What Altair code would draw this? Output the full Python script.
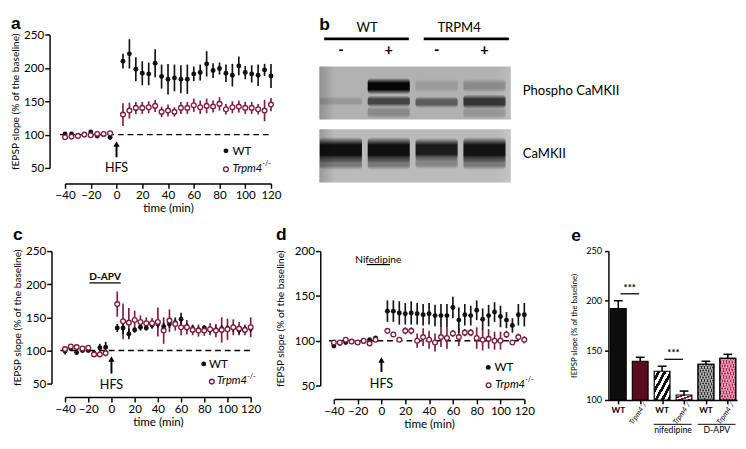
import altair as alt
import pandas as pd

FONT = "Lato"
LETTER_FONT = "Liberation Sans"
WT_COLOR = "#111111"
KO_COLOR = "#7b1d3d"
Y_TITLE = "fEPSP slope (% of the baseline)"

# ---------------- time-course data (mean, SEM) ----------------
TIMES = [-40, -35, -30, -25, -20, -15, -10, -5,
         5, 10, 15, 20, 25, 30, 35, 40, 45, 50, 55, 60, 65, 70,
         75, 80, 85, 90, 95, 100, 105, 110, 115, 120]
X_TICKS = [-40, -20, 0, 20, 40, 60, 80, 100, 120]

A_WT = [101, 101, 99, 100, 104, 98, 100, 96,
        210, 221, 198, 192, 191, 207, 187, 183, 185, 183, 183, 191, 193, 206,
        196, 199, 192, 189, 203, 193, 191, 189, 197, 188]
A_WT_SEM = [3, 2, 2, 2, 3, 2, 2, 4,
            11, 22, 18, 18, 17, 21, 18, 23, 20, 21, 22, 11, 12, 19,
            11, 9, 13, 17, 14, 10, 13, 16, 9, 18]
A_KO = [96, 97, 98, 100, 99, 101, 101, 102,
        130, 136, 140, 140, 141, 143, 134, 136, 134, 140, 140, 144, 141, 143,
        142, 146, 138, 141, 142, 140, 140, 138, 136, 145]
A_KO_SEM = [2, 2, 2, 1, 2, 2, 2, 2,
            17, 12, 9, 9, 9, 9, 8, 9, 7, 9, 9, 10, 10, 11,
            9, 10, 8, 9, 9, 9, 9, 8, 16, 10]

C_WT = [99, 103, 97, 100, 100, 96, 104, 105,
        134, 134, 125, 131, 135, 134, 138, 140, 136, 140, 142, 147, 136, 133,
        131, 134, 131, 131, 133, 133, 134, 131, 132, 133]
C_WT_SEM = [5, 4, 4, 3, 3, 3, 6, 8,
            6, 9, 8, 4, 5, 4, 5, 6, 6, 6, 6, 10, 6, 5,
            5, 4, 5, 5, 5, 5, 6, 6, 5, 5]
C_KO = [102, 106, 105, 103, 104, 94, 94, 96,
        170, 144, 142, 146, 143, 141, 141, 143, 130, 145, 140, 135, 135, 131,
        130, 130, 132, 130, 131, 132, 135, 133, 131, 135]
C_KO_SEM = [4, 3, 3, 3, 4, 3, 3, 5,
            19, 27, 22, 14, 10, 9, 8, 22, 20, 17, 10, 12, 11, 8,
            9, 8, 9, 10, 19, 16, 12, 10, 8, 15]

D_WT = [94, 97, 98, 99, 98, 99, 101, 103,
        133, 133, 131, 130, 131, 130, 129, 130, 128, 128, 128, 137, 123, 129,
        128, 134, 124, 128, 132, 127, 123, 117, 129, 129]
D_WT_SEM = [2, 2, 1, 1, 1, 1, 2, 2,
            12, 12, 13, 12, 13, 12, 12, 12, 12, 13, 13, 12, 14, 12,
            11, 11, 12, 12, 11, 12, 9, 8, 12, 13]
D_KO = [98, 98, 101, 99, 98, 100, 97, 101,
        111, 107, 101, 111, 111, 100, 104, 101, 98, 104, 103, 108, 104, 109,
        109, 103, 101, 102, 100, 100, 107, 98, 104, 101]
D_KO_SEM = [1, 1, 1, 1, 1, 1, 2, 1,
            2, 2, 2, 4, 4, 8, 10, 10, 10, 11, 12, 4, 10, 4,
            4, 12, 12, 11, 10, 10, 4, 2, 4, 4]

# ---------------- bar data (panel e) ----------------
E_GENO = ["WT", "Trpm4", "WT", "Trpm4", "WT", "Trpm4"]
E_MEAN = [192, 139, 129, 105, 136, 142]
E_SEM = [8, 4, 5, 4, 3, 4]
E_TREAT = ["none", "none", "nifedipine", "nifedipine", "D-APV", "D-APV"]
E_SIG_PAIRS = [(0, 1), (2, 3)]
E_SIG_LEVEL = [207, 141]

# ---------------- western blot (panel b) ----------------
LANE_SIGNS = ["-", "+", "-", "+"]
GENOTYPES = ["WT", "TRPM4"]
BLOT_NAMES = ["Phospho CaMKII", "CaMKII"]
BLOT_SPAN = [(33, 88), (98, 153)]
BLOT_BG = ["#b1b1b1", "#bababa"]
# lane, top, bottom, band density (0-1)
BANDS = [
    (0, 64, 74, 0.14),
    (1, 45, 62, 0.97), (1, 63, 75, 0.62), (1, 74, 87, 0.22),
    (2, 46, 60, 0.13), (2, 64, 76, 0.48),
    (3, 46, 60, 0.22), (3, 62, 77, 0.70), (3, 75, 87, 0.16),
    (0, 106, 133, 0.92), (1, 106, 133, 0.92), (2, 107, 131, 0.85), (3, 106, 133, 0.90),
    (0, 126, 140, 0.35), (1, 126, 140, 0.35), (2, 126, 139, 0.28), (3, 126, 140, 0.35),
]


def txt(**kw):
    base = dict(font=FONT, color="black")
    base.update(kw)
    return base


def series_df(wt, wt_sem, ko, ko_sem):
    rows = []
    for t, m, s in zip(TIMES, wt, wt_sem):
        rows.append(dict(t=t, mean=m, lo=m - s, hi=m + s, group="WT"))
    for t, m, s in zip(TIMES, ko, ko_sem):
        rows.append(dict(t=t, mean=m, lo=m - s, hi=m + s, group="KO"))
    return pd.DataFrame(rows)


def tc_panel(wt, wt_sem, ko, ko_sem, *, letter, width, height, ydomain, yticks,
             offset, legend, arrow, hfs_y, drug=None, title_pad=3,
             letter_dx=0, letter_dy=0):
    df = series_df(wt, wt_sem, ko, ko_sem)
    xs = alt.Scale(domain=[-40, 120], nice=False, zero=False)
    ys = alt.Scale(domain=ydomain, nice=False, zero=False)
    xax = alt.Axis(values=X_TICKS, title="time (min)", offset=offset, tickSize=5,
                   labelPadding=2, titlePadding=2, labelFontSize=12, titleFontSize=12,
                   labelFlush=False, labelOverlap=False, grid=False)
    yax = alt.Axis(values=yticks, title=Y_TITLE, offset=offset, tickSize=5,
                   labelPadding=1, titlePadding=title_pad, labelFontSize=12,
                   titleFontSize=10.5, labelFlush=False, labelOverlap=False, grid=False)

    def X(f):
        return alt.X(f, type="quantitative", scale=xs, axis=xax)

    def Y(f):
        return alt.Y(f, type="quantitative", scale=ys, axis=yax)

    wt_df = df[df.group == "WT"]
    ko_df = df[df.group == "KO"]
    layers = []
    base = pd.DataFrame({"t": [-44], "t2": [120], "y": [100]})
    layers.append(alt.Chart(base).mark_rule(color="black", strokeWidth=1.4, strokeDash=[6, 4])
                  .encode(x=X("t"), x2="t2", y=Y("y")))
    layers.append(alt.Chart(ko_df).mark_rule(color=KO_COLOR, strokeWidth=1.7)
                  .encode(x=X("t"), y=Y("lo"), y2="hi"))
    layers.append(alt.Chart(wt_df).mark_rule(color=WT_COLOR, strokeWidth=1.7)
                  .encode(x=X("t"), y=Y("lo"), y2="hi"))
    layers.append(alt.Chart(wt_df).mark_point(shape="circle", filled=True, size=26,
                                              color=WT_COLOR, opacity=1)
                  .encode(x=X("t"), y=Y("mean")))
    layers.append(alt.Chart(ko_df).mark_point(shape="circle", filled=True, size=24,
                                              fill="white", stroke=KO_COLOR,
                                              strokeWidth=1.4, opacity=1)
                  .encode(x=X("t"), y=Y("mean")))
    # HFS arrow
    arr = pd.DataFrame({"t": [0], "tail": [arrow[0]], "head": [arrow[1]],
                        "hy": [hfs_y], "label": ["HFS"]})
    layers.append(alt.Chart(arr).mark_rule(color="black", strokeWidth=2)
                  .encode(x=X("t"), y=Y("tail"), y2="head"))
    layers.append(alt.Chart(arr).mark_point(shape="triangle-up", filled=True, size=42,
                                            color="black", opacity=1)
                  .encode(x=X("t"), y=Y("head")))
    layers.append(alt.Chart(arr).mark_text(**txt(fontSize=13))
                  .encode(x=X("t"), y=Y("hy"), text="label"))
    # legend
    (wx, wy, wtx), (kx, ky, ktx) = legend
    leg = pd.DataFrame({"px": [wx, kx], "py": [wy, ky], "tx": [wtx, ktx],
                        "label": ["WT", "Trpm4"], "kind": ["WT", "KO"]})
    layers.append(alt.Chart(leg[leg.kind == "WT"]).mark_point(
        shape="circle", filled=True, size=26, color=WT_COLOR, opacity=1)
        .encode(x=X("px"), y=Y("py")))
    layers.append(alt.Chart(leg[leg.kind == "KO"]).mark_point(
        shape="circle", filled=True, size=24, fill="white", stroke=KO_COLOR,
        strokeWidth=1.4, opacity=1).encode(x=X("px"), y=Y("py")))
    layers.append(alt.Chart(leg[leg.kind == "WT"]).mark_text(
        **txt(fontSize=12, align="left")).encode(x=X("tx"), y=Y("py"), text="label"))
    layers.append(alt.Chart(leg[leg.kind == "KO"]).mark_text(
        **txt(fontSize=11.5, align="left", fontStyle="italic"))
        .encode(x=X("tx"), y=Y("py"), text="label"))
    layers.append(alt.Chart(leg[leg.kind == "KO"]).mark_text(
        **txt(fontSize=7.5, align="left", dx=31, dy=-5))
        .encode(x=X("tx"), y=Y("py"), text=alt.value("-/-")))
    # drug application bar
    if drug is not None:
        name, t0, t1, ybar, ytext, weight = drug
        dd = pd.DataFrame({"t0": [t0], "t1": [t1], "tm": [(t0 + t1) / 2],
                           "yb": [ybar], "yt": [ytext], "label": [name]})
        layers.append(alt.Chart(dd).mark_rule(color="black", strokeWidth=1.3)
                      .encode(x=X("t0"), x2="t1", y=Y("yb")))
        layers.append(alt.Chart(dd).mark_text(**txt(fontSize=10.5, fontWeight=weight))
                      .encode(x=X("tm"), y=Y("yt"), text="label"))
    return alt.layer(*layers).properties(
        width=width, height=height,
        title=alt.TitleParams(letter, anchor="start", offset=0, dx=letter_dx, dy=letter_dy))


panel_a = tc_panel(A_WT, A_WT_SEM, A_KO, A_KO_SEM, letter="a", width=213, height=138,
                   ydomain=[50, 250], yticks=[50, 100, 150, 200, 250], offset=16,
                   legend=((85, 75.6, 90), (85, 48, 90)), arrow=(66, 86), hfs_y=50,
                   letter_dy=4)
panel_c = tc_panel(C_WT, C_WT_SEM, C_KO, C_KO_SEM, letter="c", width=192, height=137,
                   ydomain=[50, 250], yticks=[50, 100, 150, 200, 250], offset=14,
                   legend=((79.5, 79.7, 84), (86.5, 53, 91)), arrow=(65, 87), hfs_y=48,
                   drug=("D-APV", -19, 8, 202, 210.5, "bold"), letter_dy=-1)
panel_d = tc_panel(D_WT, D_WT_SEM, D_KO, D_KO_SEM, letter="d", width=197, height=139,
                   ydomain=[50, 200], yticks=[50, 100, 150, 200], offset=14,
                   legend=((89.7, 70.2, 95), (90, 50.3, 95.5)), arrow=(65, 78.5), hfs_y=52,
                   drug=("Nifedipine", -12.4, 7.1, 185, 190.5, "normal"),
                   title_pad=9, letter_dy=-1)


# ---------------- panel b: western blot ----------------
def blot_panel():
    xs = alt.Scale(domain=[0, 4], nice=False, zero=False)
    ys = alt.Scale(domain=[0, 153], nice=False, zero=False, reverse=True)

    def X(f):
        return alt.X(f, type="quantitative", scale=xs, axis=None)

    def Y(f):
        return alt.Y(f, type="quantitative", scale=ys, axis=None)

    bg = pd.DataFrame({"x0": [0, 0], "x1": [4, 4],
                       "y0": [s[0] for s in BLOT_SPAN], "y1": [s[1] for s in BLOT_SPAN],
                       "c": BLOT_BG, "name": BLOT_NAMES,
                       "ym": [(s[0] + s[1]) / 2 - 2 for s in BLOT_SPAN], "xl": [4.25, 4.25]})
    rows = []
    for lane, top, bot, dens in BANDS:
        cx = lane + 0.45
        rows.append(dict(x0=cx - 0.44, x1=cx + 0.44, y0=top, y1=bot, o=dens))
    bands = pd.DataFrame(rows)
    soft = dict(gradient="linear", x1=0, y1=0, x2=0, y2=1, stops=[
        dict(offset=0, color="rgba(0,0,0,0)"),
        dict(offset=0.3, color="#000000"),
        dict(offset=0.7, color="#000000"),
        dict(offset=1, color="rgba(0,0,0,0)"),
    ])
    sheen = dict(gradient="linear", x1=0, y1=0, x2=1, y2=0, stops=[
        dict(offset=0, color="rgba(0,0,0,0.18)"),
        dict(offset=0.08, color="rgba(0,0,0,0)"),
        dict(offset=0.92, color="rgba(255,255,255,0)"),
        dict(offset=1, color="rgba(255,255,255,0.15)"),
    ])
    signs = pd.DataFrame({"x": [i + 0.45 for i in range(4)], "y": [16] * 4,
                          "label": LANE_SIGNS})
    heads = pd.DataFrame({"x": [1.0, 2.92], "y": [-7, -7], "x0": [0.1, 2.18],
                          "x1": [1.87, 3.96], "yl": [4.5, 4.5], "label": GENOTYPES})
    layers = [
        alt.Chart(bg).mark_rect().encode(x=X("x0"), x2="x1", y=Y("y0"), y2="y1",
                                         color=alt.Color("c:N", scale=None)),
        alt.Chart(bg).mark_rect(fill=sheen).encode(x=X("x0"), x2="x1", y=Y("y0"), y2="y1"),
        alt.Chart(bands).mark_rect(fill=soft, cornerRadius=4)
        .encode(x=X("x0"), x2="x1", y=Y("y0"), y2="y1",
                opacity=alt.Opacity("o:Q", scale=None)),
        alt.Chart(heads).mark_rule(color="black", strokeWidth=3)
        .encode(x=X("x0"), x2="x1", y=Y("yl")),
        alt.Chart(heads).mark_text(**txt(fontSize=13.5)).encode(x=X("x"), y=Y("y"), text="label"),
        alt.Chart(signs).mark_text(**txt(fontSize=15, fontWeight="bold"))
        .encode(x=X("x"), y=Y("y"), text="label"),
        alt.Chart(bg).mark_text(**txt(fontSize=13.5, align="left"))
        .encode(x=X("xl"), y=Y("ym"), text="name"),
    ]
    return alt.layer(*layers).properties(
        width=198, height=153,
        title=alt.TitleParams("b", anchor="start", offset=0, dy=13))


panel_b = blot_panel()


# ---------------- panel e: bar summary ----------------
def stripes(c1, c2, n, flip=False):
    stops = []
    for k in range(n):
        a, m, b = k / n, (k + 0.5) / n, (k + 1) / n
        stops += [dict(offset=a, color=c1), dict(offset=m, color=c1),
                  dict(offset=m, color=c2), dict(offset=b, color=c2)]
    if flip:
        return dict(gradient="linear", stops=stops, x1=1, y1=0, x2=0, y2=1)
    return dict(gradient="linear", stops=stops, x1=0, y1=0, x2=1, y2=1)


def bar_panel():
    xs = alt.Scale(domain=[-0.45, 5.42], nice=False, zero=False)
    ys = alt.Scale(domain=[100, 250], nice=False, zero=False)
    xax = alt.Axis(values=[0, 1, 2, 3, 4, 5], labels=False, title=None, tickSize=4,
                   grid=False)
    yax = alt.Axis(values=[100, 150, 200, 250], title=Y_TITLE, tickSize=4, labelPadding=3,
                   titlePadding=7, labelFontSize=9.5, titleFontSize=8, grid=False,
                   labelFlush=False, labelOverlap=False)

    def X(f):
        return alt.X(f, type="quantitative", scale=xs, axis=xax)

    def Y(f):
        return alt.Y(f, type="quantitative", scale=ys, axis=yax)

    n = len(E_MEAN)
    df = pd.DataFrame({
        "i": list(range(n)), "mean": E_MEAN,
        "top": [m + s for m, s in zip(E_MEAN, E_SEM)],
        "geno": E_GENO, "treat": E_TREAT,
    })
    df["x0"] = df["i"] - 0.36
    df["x1"] = df["i"] + 0.36
    df["c0"] = df["i"] - 0.2
    df["c1"] = df["i"] + 0.2
    df["base"] = 100
    df["lab"] = [("WT" if g == "WT" else "Trpm4\u207b/\u207b") for g in E_GENO]
    df["ly"] = [90 if g == "WT" else 98.5 for g in E_GENO]
    df["lx"] = [i if g == "WT" else i + 0.3 for i, g in zip(df["i"], E_GENO)]

    fills = [
        ("#0d0d0d", None),
        ("#5a0b1e", None),
        (stripes("#ffffff", "#111111", 5), None),
        (stripes("#ffffff", "#8c1c3e", 3), None),
        ("#2e2e2e", "rgba(230,230,230,0.5)"),
        ("#b0204f", "rgba(255,220,235,0.5)"),
    ]
    layers = []
    for k, (fill, hatch) in enumerate(fills):
        sub = df[df.i == k]
        layers.append(alt.Chart(sub).mark_rect(fill=fill, stroke="black", strokeWidth=1.2)
                      .encode(x=X("x0"), x2="x1", y=Y("base"), y2="mean"))
        if hatch is not None:
            for flip in (False, True):
                layers.append(alt.Chart(sub).mark_rect(
                    fill=stripes(hatch, "rgba(0,0,0,0)", 11, flip), strokeWidth=0)
                    .encode(x=X("x0"), x2="x1", y=Y("base"), y2="mean"))
            layers.append(alt.Chart(sub).mark_rect(fill="transparent", stroke="black",
                                                   strokeWidth=1.2)
                          .encode(x=X("x0"), x2="x1", y=Y("base"), y2="mean"))
    layers.append(alt.Chart(df).mark_rule(color="black", strokeWidth=1.6)
                  .encode(x=X("i"), y=Y("mean"), y2="top"))
    layers.append(alt.Chart(df).mark_rule(color="black", strokeWidth=1.6)
                  .encode(x=X("c0"), x2="c1", y=Y("top")))
    # significance
    sig = pd.DataFrame({"x0": [a + 0.1 for a, b in E_SIG_PAIRS],
                        "x1": [b - 0.05 for a, b in E_SIG_PAIRS],
                        "xm": [(a + b) / 2 + 0.02 for a, b in E_SIG_PAIRS],
                        "y": E_SIG_LEVEL, "yt": [v + 6 for v in E_SIG_LEVEL],
                        "label": ["***", "***"]})
    layers.append(alt.Chart(sig).mark_rule(color="black", strokeWidth=1.3)
                  .encode(x=X("x0"), x2="x1", y=Y("y")))
    layers.append(alt.Chart(sig).mark_text(**txt(fontSize=10, fontWeight="bold"))
                  .encode(x=X("xm"), y=Y("yt"), text="label"))
    # category labels
    layers.append(alt.Chart(df[df.geno == "WT"]).mark_text(
        **txt(fontSize=8.5, fontWeight="bold")).encode(x=X("lx"), y=Y("ly"), text="lab"))
    layers.append(alt.Chart(df[df.geno != "WT"]).mark_text(
        **txt(fontSize=7.5, fontStyle="italic", angle=305, align="right"))
        .encode(x=X("lx"), y=Y("ly"), text="lab"))
    grp = pd.DataFrame({"name": ["nifedipine", "D-APV"], "x0": [1.62, 3.63],
                        "x1": [3.35, 5.35], "xm": [2.5, 4.5], "y": [75.5, 75.5],
                        "yt": [70, 70]})
    layers.append(alt.Chart(grp).mark_rule(color="black", strokeWidth=1)
                  .encode(x=X("x0"), x2="x1", y=Y("y")))
    layers.append(alt.Chart(grp).mark_text(**txt(fontSize=9))
                  .encode(x=X("xm"), y=Y("yt"), text="name"))
    return alt.layer(*layers).properties(
        width=133, height=154,
        title=alt.TitleParams("e", anchor="start", offset=0, dy=-1))


panel_e = bar_panel()

row1 = alt.hconcat(panel_a, panel_b, spacing=39)
row2 = alt.hconcat(panel_c, alt.hconcat(panel_d, panel_e, spacing=37), spacing=15)

chart = (
    alt.vconcat(row1, row2, spacing=14)
    .properties(padding={"left": 3, "top": 0, "right": 0, "bottom": 0})
    .configure_view(stroke=None)
    .configure_axis(domainColor="black", domainWidth=1.5, tickColor="black",
                    tickWidth=1.5, labelColor="black", titleColor="black",
                    labelFont=FONT, titleFont=FONT, titleFontWeight="normal")
    .configure_title(font=LETTER_FONT, fontSize=18, fontWeight="bold", color="black",
                     anchor="start")
)

chart.save("out.html", embed_options={"renderer": "svg", "actions": False})
